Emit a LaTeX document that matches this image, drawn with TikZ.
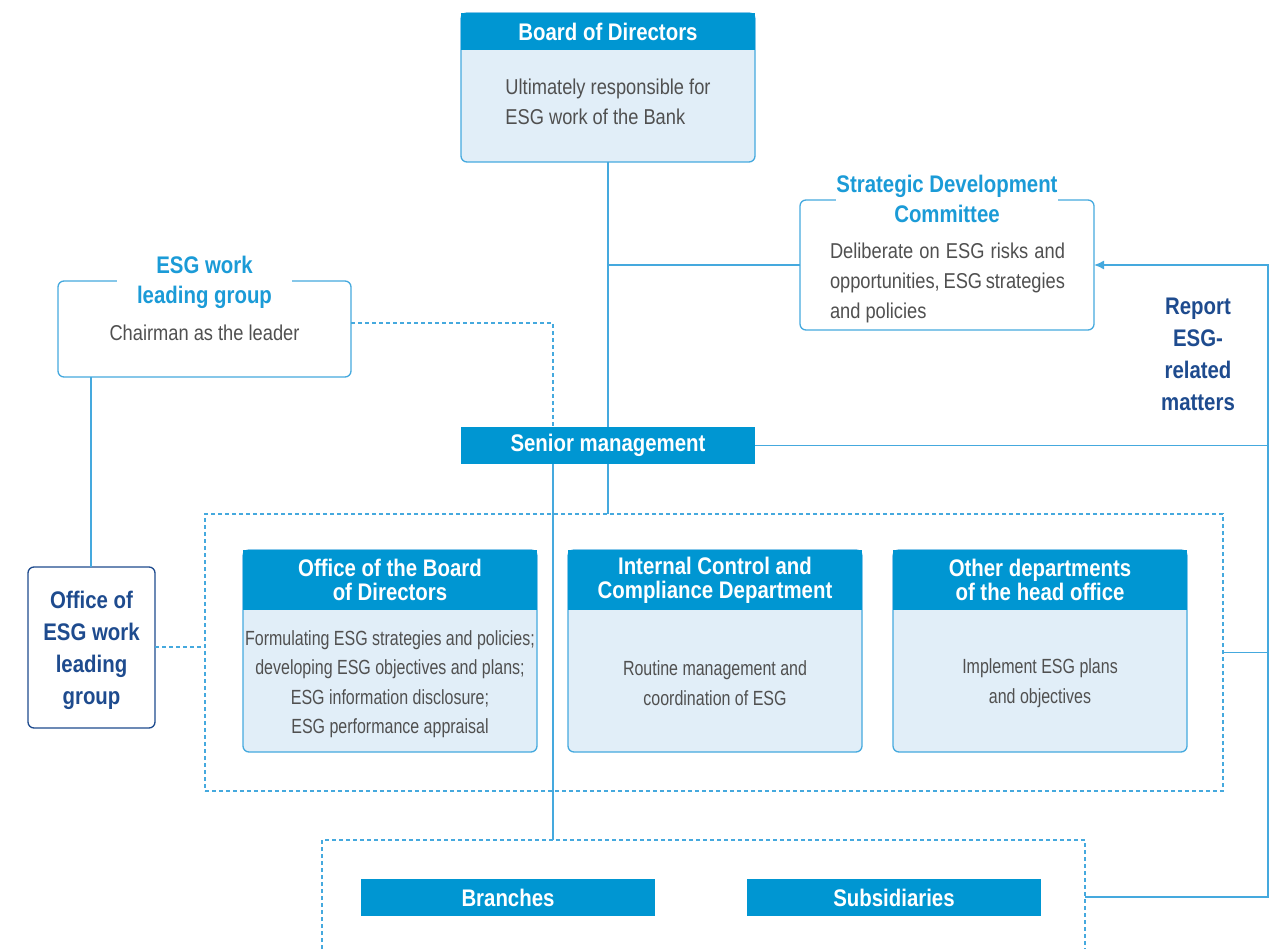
\documentclass[tikz,border=0pt]{standalone}
\usepackage{fontspec}
\setmainfont[FakeStretch=0.85]{Liberation Sans}
\newfontfamily\slimfont[FakeStretch=0.78]{Liberation Sans}
\usetikzlibrary{arrows.meta,calc}
\definecolor{hdrblue}{HTML}{0096D2}
\definecolor{paleblue}{HTML}{E1EEF8}
\definecolor{lineblue}{HTML}{45A9DE}
\definecolor{titleblue}{HTML}{1B9BD7}
\definecolor{navy}{HTML}{1E4B8E}
\definecolor{bodygray}{HTML}{505050}

\begin{document}
\begin{tikzpicture}[x=1pt,y=-1pt,
  every node/.style={inner sep=0pt, outer sep=0pt},
  conn/.style={draw=lineblue, line width=1.4pt},
  dashconn/.style={draw=lineblue, line width=1.3pt, dash pattern=on 4pt off 3pt},
  panel/.style={draw=lineblue, line width=1.3pt, fill=paleblue, rounded corners=6pt, anchor=north west},
  whitepanel/.style={draw=lineblue, line width=1.3pt, fill=white, rounded corners=6pt, anchor=north west},
  header/.style={fill=hdrblue, text=white, anchor=north west, align=center,
    font=\fontsize{24}{24}\selectfont\bfseries},
  bodytext/.style={text=bodygray, font=\fontsize{21.5}{30}\selectfont},
  lowtext/.style={text=bodygray, align=center, font=\slimfont\fontsize{20.5}{30}\selectfont},
  titletext/.style={fill=white, text=titleblue, align=center,
    font=\fontsize{24}{30}\selectfont\bfseries},
  navytext/.style={text=navy, align=center, font=\fontsize{24}{32}\selectfont\bfseries},
  groupbox/.style={dashconn, anchor=north west}
]
\useasboundingbox (0,0) rectangle (1273,949);

% dashed frame round the head-office departments
\node[groupbox, minimum width=1018pt, minimum height=277pt] (group1) at (205,514) {};
% frame round branches and subsidiaries (open at the bottom)
\node[anchor=north west, minimum width=763pt, minimum height=114pt] (group2) at (322,840) {};
\draw[dashconn] (group2.north west |- 0,949) -- (group2.north west) -- (group2.north east) -- (group2.north east |- 0,949);

% main boxes
\node[panel, minimum width=294pt, minimum height=149pt] (board) at (461,13) {};
\node[header, minimum width=294pt, minimum height=37pt] (boardh) at (461,13) {Board of Directors};
\node[bodytext, align=left] (boardt) at (608,102) {Ultimately responsible for\\ESG work of the Bank};

\node[whitepanel, minimum width=294pt, minimum height=130pt] (sdc) at (800,200) {};
\node[titletext, inner xsep=0pt] (sdch) at (947,199) {Strategic Development\\Committee};
\node[bodytext, text width=235pt, align=justify] (sdct) at (947.5,283)
  {Deliberate on ESG risks and\linebreak opportunities, ESG strategies\linebreak and policies};

\node[whitepanel, minimum width=293pt, minimum height=96pt] (lg) at (58,281) {};
\node[titletext, inner xsep=20pt] (lgh) at (204.5,282) {ESG work\\leading group};
\node[bodytext] (lgt) at (204.5,333) {Chairman as the leader};

\node[whitepanel, draw=navy, minimum width=127pt, minimum height=161pt] (oesg) at (28,567) {};
\node[navytext] (oesgt) at ([yshift=-3pt]oesg.center) {Office of\\ESG work\\leading\\group};

\node[header, minimum width=294pt, minimum height=37pt] (senior) at (461,427) {Senior management};

\node[panel, minimum width=294pt, minimum height=202pt] (obd) at (243,550) {};
\node[header, minimum width=294pt, minimum height=60pt] (obdh) at (243,550) {Office of the Board\\of Directors};
\node[lowtext, font=\slimfont\fontsize{20.5}{29.4}\selectfont] (obdt) at (390,684)
  {Formulating ESG strategies and policies;\\developing ESG objectives and plans;\\ESG information disclosure;\\ESG performance appraisal};

\node[panel, minimum width=294pt, minimum height=202pt] (icc) at (568,550) {};
\node[header, minimum width=294pt, minimum height=60pt] (icch) at (568,550) {Internal Control and\\Compliance Department};
\node[lowtext] (icct) at (715,683) {Routine management and\\coordination of ESG};

\node[panel, minimum width=294pt, minimum height=202pt] (oth) at (893,550) {};
\node[header, minimum width=294pt, minimum height=60pt] (othh) at (893,550) {Other departments\\of the head office};
\node[lowtext] (otht) at (1040,683) {Implement ESG plans\\and objectives};

\node[header, minimum width=294pt, minimum height=37pt] (branches) at (361,879) {Branches};
\node[header, minimum width=294pt, minimum height=37pt] (subs) at (747,879) {Subsidiaries};

\node[navytext] (report) at (1198,354) {Report\\ESG-\\related\\matters};

% reporting bus on the right and the spine under senior management
\coordinate (bus) at (1268,0);
\coordinate (spine) at (553,0);

% connectors
\draw[conn] (board.south) -- (senior.north);
\draw[conn] (sdc.west) -- (sdc.west -| board.south);
\draw[conn] (senior.south) -- (senior.south |- group1.north);
\draw[conn] (senior.south -| spine) -- (group2.north -| spine);
\draw[dashconn] ([yshift=6pt]lg.east) -- ([yshift=6pt]lg.east -| spine) -- (senior.north -| spine);
\draw[conn] ([xshift=-0.5pt]oesg.north) -- ([xshift=-0.5pt]oesg.north |- lg.south);
\draw[dashconn] ([yshift=0.5pt]oesg.east) -- ([yshift=0.5pt]oesg.east -| group1.west);
\draw[conn] (senior.east) -- (senior.east -| bus);
\draw[conn] (group1.east) -- (group1.east -| bus);
\draw[conn, -{Latex[length=10pt,width=9pt]}] (group2.east) -- (group2.east -| bus) -- (sdc.east -| bus) -- (sdc.east);
\end{tikzpicture}
\end{document}
